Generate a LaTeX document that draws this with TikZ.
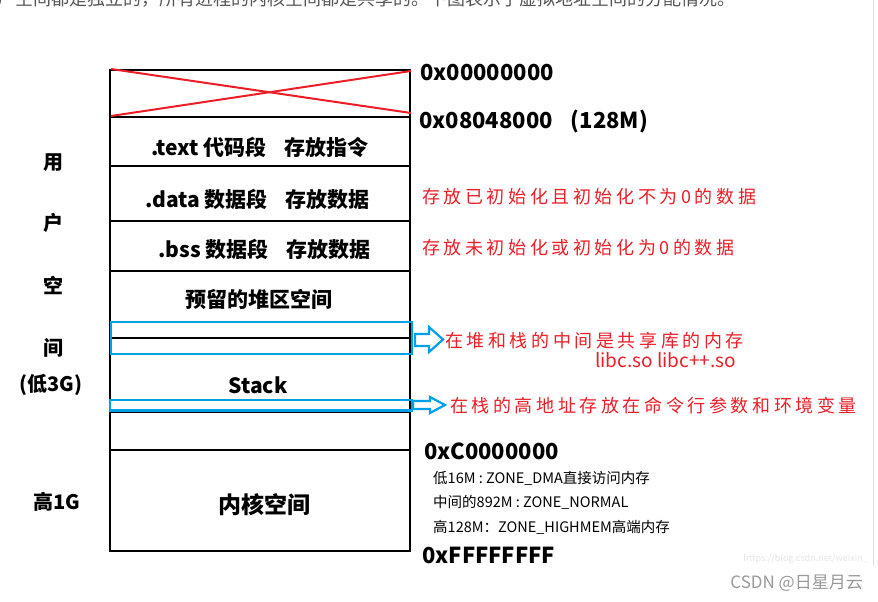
\documentclass[tikz,border=0pt]{standalone}
\usepackage{fontspec}
\setmainfont{Noto Sans CJK SC}
\newfontfamily\redfont[LetterSpace=20]{Noto Sans CJK SC}
\definecolor{myred}{RGB}{235,30,40}
\definecolor{myblue}{RGB}{0,160,233}
\definecolor{mygray}{RGB}{85,85,85}
\tikzset{
  boxline/.style={line width=2.5pt, black},
  addr/.style={anchor=west, inner sep=0pt, font=\bfseries\fontsize{22}{22}\selectfont},
  seg/.style={inner sep=0pt, font=\bfseries\fontsize{21}{21}\selectfont},
  side/.style={inner sep=0pt, font=\bfseries\fontsize{20}{20}\selectfont},
  note/.style={anchor=west, inner sep=0pt, text=myred, font=\redfont\fontsize{18}{18}\selectfont},
  small/.style={anchor=west, inner sep=0pt, font=\fontsize{14.5}{14.5}\selectfont},
  bluebox/.style={line width=2.5pt, draw=myblue},
  hollowarrow/.style={line width=2.2pt, draw=myblue, fill=white, line join=miter},
}
\begin{document}
\begin{tikzpicture}[x=1pt,y=-1pt]
\useasboundingbox (0,0) rectangle (878,602);
\clip (0,0) rectangle (878,602);
% top cut-off paragraph
\node[anchor=base west, inner sep=0pt, text=mygray, font=\fontsize{18}{18}\selectfont] (para) at (-3,6) {户空间都是独立的，所有进程的内核空间都是共享的。下图表示了虚拟地址空间的分配情况。};
% right page edge
\draw[gray!25, line width=1pt] (873.5,0) -- (873.5,566);
% main box
\coordinate (tl) at (110,70);
\coordinate (br) at (410,551);
\draw[boxline] (tl) rectangle (br);
\foreach \yy in {117,166,221,271,338,412,450}
  \draw[boxline] (110,\yy) -- (410,\yy);
% red cross
\draw[myred, line width=2pt] (111,69) -- (411,113);
\draw[myred, line width=2pt] (111,116) -- (411,71);
% blue boxes
\draw[bluebox] (111,322) rectangle (412,354);
\draw[bluebox] (110,400) rectangle (412,410.5);
% hollow arrows
\draw[hollowarrow] (415,334) -- (429,334) -- (429,327) -- (443,339.5) -- (429,352) -- (429,346) -- (415,346) -- cycle;
\draw[hollowarrow] (413,401) -- (430,401) -- (430,397) -- (445,405) -- (430,413) -- (430,409) -- (413,409) -- cycle;
% segment texts
\node[seg] (text) at (260,147) {.text 代码段\hspace{18pt}存放指令};
\node[seg] (data) at (257.5,199) {.data 数据段\hspace{18pt}存放数据};
\node[seg] (bss) at (264.5,249) {.bss 数据段\hspace{18pt}存放数据};
\node[seg] (heap) at (259,299) {预留的堆区空间};
\node[seg] (stack) at (258,385) {Stack};
\node[inner sep=0pt, font=\bfseries\fontsize{23}{23}\selectfont] (kernel) at (264,505) {内核空间};
% side labels
\node[side] (s1) at (53,163) {用};
\node[side] (s2) at (53,223) {户};
\node[side] (s3) at (53,285) {空};
\node[side] (s4) at (53,348) {间};
\node[side] (s5) at (51,385) {(低3G)};
\node[side] (s6) at (57,502) {高1G};
% addresses
\node[addr] (a0) at (420,73) {0x00000000};
\node[addr] (a1) at (419,122) {0x08048000\hspace{18pt}(128M)};
\node[addr] (a2) at (424,451) {0xC0000000};
\node[addr] (a3) at (422,555) {0xFFFFFFFF};
% red notes
\node[note] (n1) at (422,197) {存放已初始化且初始化不为0的数据};
\node[note] (n2) at (422,248) {存放未初始化或初始化为0的数据};
\node[note] (n3) at (445,341) {在堆和栈的中间是共享库的内存};
\node[anchor=west, inner sep=0pt, text=myred, font=\fontsize{19}{19}\selectfont] (n4) at (595,360) {libc.so libc++.so};
\node[note] (n5) at (450,406) {在栈的高地址存放在命令行参数和环境变量};
% kernel zones
\node[small] (z1) at (433,478) {低16M : ZONE\_DMA直接访问内存};
\node[small] (z2) at (433,502) {中间的892M : ZONE\_NORMAL};
\node[small] (z3) at (433,527) {高128M：ZONE\_HIGHMEM高端内存};
% watermarks
\node[anchor=east, inner sep=0pt, text=gray!20, font=\fontsize{9}{9}\selectfont] (wm) at (868,559) {https://blog.csdn.net/weixin\_};
\node[anchor=east, inner sep=0pt, text=gray!80, font=\fontsize{17}{17}\selectfont] (csdn) at (863,583) {CSDN @日星月云};
\end{tikzpicture}
\end{document}
